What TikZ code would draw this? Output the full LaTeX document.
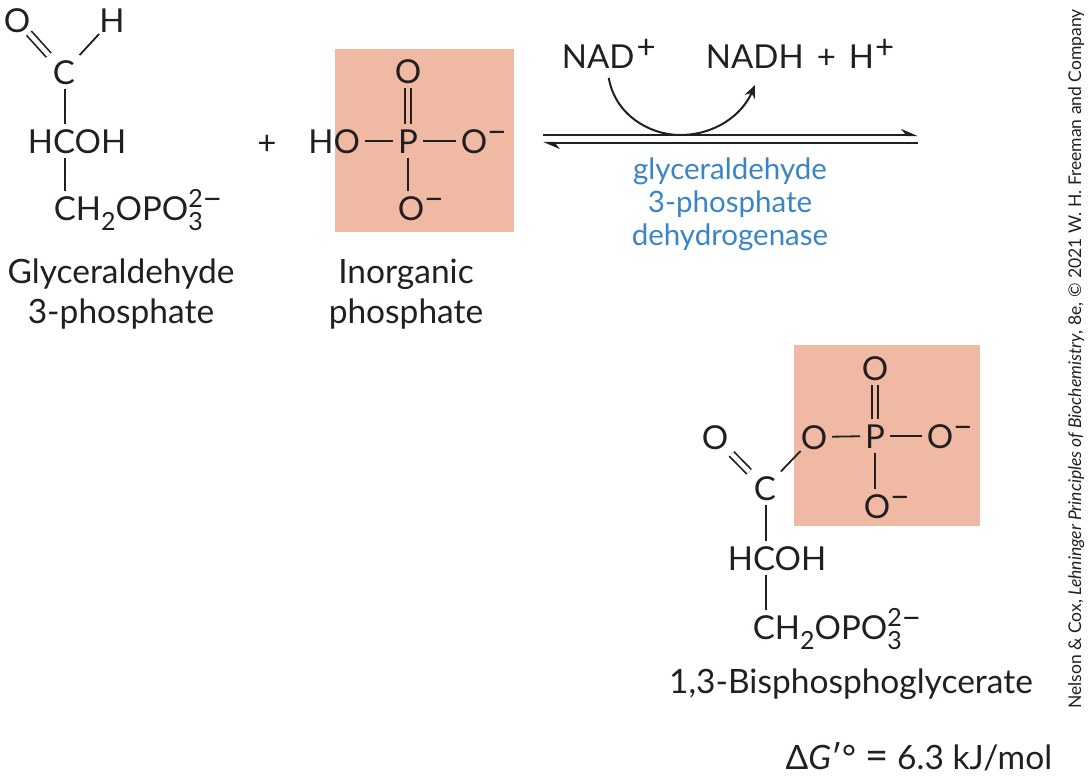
\documentclass[tikz,border=0pt]{standalone}
\usepackage{fontspec}
\setmainfont{Lato}
\usepackage{tikz}
\usetikzlibrary{arrows.meta, calc, positioning}
\definecolor{inkline}{HTML}{231F20}
\definecolor{salmon}{HTML}{EFB9A4}
\definecolor{enzymeblue}{HTML}{3A85C6}
\newcommand{\chemsub}[1]{\raisebox{-10pt}{\fontsize{25}{25}\selectfont #1}}
\newcommand{\chemsup}[1]{\raisebox{13pt}{\fontsize{25}{25}\selectfont #1}}
\newcommand{\chemsign}[1]{\raisebox{10pt}{#1}}
\newcommand{\phosphate}{CH\chemsub{2}OPO\rlap{\chemsub{3}}\chemsup{2}\chemsign{−}}
\newcommand{\anion}{O\chemsign{−}}

\begin{document}
\begin{tikzpicture}[x=1pt,y=-1pt,
    line width=1.8pt,color=inkline,
    bond/.style={},
    dbond/.style={bond,line width=1.7pt,double=white,double distance=4.6pt},
    pbond/.style={dbond,double=salmon},
    label/.style={align=center,font=\fontsize{33.5}{40}\selectfont,inner sep=0pt},
    enzyme/.style={align=center,font=\fontsize{29.5}{33}\selectfont,text=enzymeblue,inner sep=0pt}]
    \useasboundingbox (0,0) rectangle (1090,780);

    \fill[salmon] (335,49) rectangle (514,232);
    \fill[salmon] (794,345) rectangle (980,526);

    \begin{scope}[every node/.style={inner sep=4pt,text height=24pt,text depth=0pt,text=inkline,font=\fontsize{33}{33}\selectfont}]
    % glyceraldehyde 3-phosphate
    \node (o_1) at (17,20) {O};
    \node (h_1) at (112,20) {H};
    \node (c_1) at (64,72) {C};
    \node[anchor=base] (hcoh_1) at (77,153) {HCOH};
    \node[anchor=base west] (ch_1) at (49,220) {\phosphate};
    \coordinate (axis_1) at (65,0);

    % inorganic phosphate
    \node (o_2) at (408,71) {O};
    \node (p_1) at (408,141) {P};
    \node[anchor=base east] (ho_1) at (365,153) {HO};
    \node[anchor=base west] (o_3) at (456,153) {\anion};
    \node[anchor=base west] (o_4) at (393,220) {\anion};

    % 1,3-bisphosphoglycerate
    \node (o_5) at (715,437) {O};
    \node (c_2) at (765,488) {C};
    \node (o_6) at (814,437) {O};
    \node (p_2) at (875,436) {P};
    \node (o_7) at (875,368) {O};
    \node[anchor=base west] (o_8) at (922,448) {\anion};
    \node[anchor=base west] (o_9) at (859,518) {\anion};
    \node[anchor=base] (hcoh_2) at (777,570) {HCOH};
    \node[anchor=base west] (ch_2) at (748,639) {\phosphate};
    \coordinate (axis_2) at (766,0);

    % cofactors
    \node[anchor=base west,inner ysep=9pt] (nad_1) at (557,68) {NAD\kern2pt\chemsign{+}};
    \node[anchor=base west] (nadh_1) at (701,68) {NADH\kern13pt+\kern13pt H\kern1pt\chemsign{+}};
    \node (plus_1) at (267,142) {+};
    \end{scope}

    \draw[dbond,shorten <=-5pt] (o_1) -- (c_1);
    \draw[bond,shorten >=-4pt] (c_1) -- (h_1);
    \draw[bond] (c_1.south -| axis_1) -- (hcoh_1.north -| axis_1);
    \draw[bond] (hcoh_1.south -| axis_1) -- (ch_1.north -| axis_1);

    \draw[pbond] (o_2) -- (p_1);
    \draw[bond] (ho_1.east |- p_1) -- (p_1);
    \draw[bond] (p_1) -- (o_3.west |- p_1);
    \draw[bond] (p_1) -- (o_4.north -| p_1);

    \draw[dbond] (o_5) -- (c_2);
    \draw[bond,shorten >=-4pt] (c_2) -- (o_6);
    \draw[bond] (o_6) -- (p_2);
    \draw[pbond] (o_7) -- (p_2);
    \draw[bond] (p_2) -- (o_8.west |- p_2);
    \draw[bond] (p_2) -- (o_9.north -| p_2);
    \draw[bond] (c_2.south -| axis_2) -- (hcoh_2.north -| axis_2);
    \draw[bond] (hcoh_2.south -| axis_2) -- (ch_2.north -| axis_2);

    % reaction arrows
    \coordinate (fwd_start) at (543,135);
    \coordinate (fwd_end) at (918,135);
    \coordinate (rev_start) at (918,143);
    \coordinate (rev_end) at (543,143);
    \coordinate (arc_low) at (680,135);
    \coordinate (arc_tip) at (755,85);
    \draw[line width=2.3pt,-{Stealth[harpoon,length=14pt,width=12pt]}] (fwd_start) -- (fwd_end);
    \draw[line width=2.3pt,-{Stealth[harpoon,length=14pt,width=12pt]}] (rev_start) -- (rev_end);
    \draw[line width=2pt,-{Stealth[length=13pt,width=11pt]}] (nad_1.south) .. controls (615,115) and (650,135) .. (arc_low) .. controls (715,135) and (742,115) .. (arc_tip);

    \node[label] (gap_1) at (121,294) {Glyceraldehyde\\3-phosphate};
    \node[label] (pi_1) at (406,294) {Inorganic\\phosphate};
    \node[label,anchor=base] (bpg_1) at (851,693) {1,3-Bisphosphoglycerate};
    \node[label,anchor=base east] (dg_1) at (1053,769) {Δ\textit{G}′°\kern9pt{\fontsize{40}{40}\selectfont =}\kern9pt 6.3 kJ/mol};
    \node[enzyme] (enz_1) at (730,204) {glyceraldehyde\\3-phosphate\\dehydrogenase};
    \node[rotate=90,anchor=base,inner sep=0pt,text=inkline,font=\fontsize{17.5}{17.5}\selectfont] (credit_1) at (1081,359) {Nelson \& Cox, \textit{Lehninger Principles of Biochemistry}, 8e, © 2021 W. H. Freeman and Company};
\end{tikzpicture}
\end{document}
